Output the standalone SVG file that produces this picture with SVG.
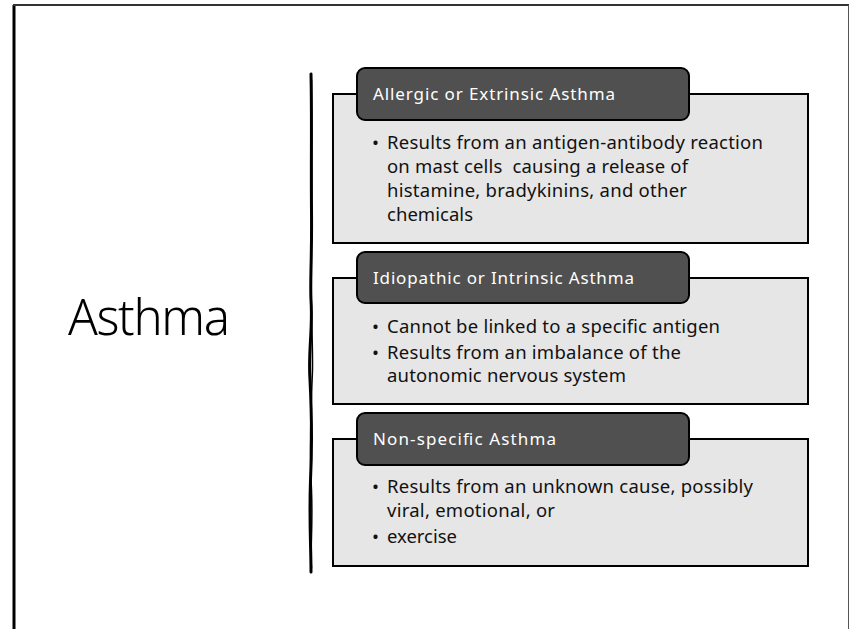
<svg xmlns="http://www.w3.org/2000/svg" width="851" height="629" viewBox="0 0 851 629">
<style>
.body{fill:#e6e6e6;stroke:#000;stroke-width:2}
.head{fill:#505050;stroke:#000;stroke-width:2}
.ht{font-family:"Noto Sans","Liberation Sans",sans-serif;font-size:17px;fill:#fff}
.bt{font-family:"Noto Sans","Liberation Sans",sans-serif;font-size:18.5px;fill:#111;white-space:pre}
.br{fill:none;stroke:#000;stroke-linecap:round}
</style>
<rect width="851" height="629" fill="#fff"/>
<g id="frame">
<line x1="14" y1="5" x2="14" y2="629" stroke="#000" stroke-width="3"/>
<line x1="13" y1="5" x2="849" y2="5" stroke="#333" stroke-width="2"/>
<line x1="848.5" y1="5" x2="848.5" y2="629" stroke="#555" stroke-width="1"/>
</g>
<g id="title">
<text x="68" y="335" font-family="'Noto Sans','Liberation Sans',sans-serif" font-size="49" font-weight="300" fill="#000" textLength="162">Asthma</text>
</g>
<g id="connectors">
<path class="br" stroke-width="3" d="M311 74 C312 120 311 160 311.5 210 C312 260 310 280 311 300 C313 330 308 350 310 380 C312 420 312 450 310.5 480 C309 520 311 545 311 572"/>
<path class="br" stroke-width="1.5" d="M311.5 80 C311 140 312.5 190 311 250 C309.5 300 313 330 312.5 370 C311 410 309 440 311.5 490 C313 530 310 550 311.5 568"/>
</g>
<g id="node1">
<rect class="body" x="333" y="94" width="475" height="149"/>
<rect class="head" x="357" y="68" width="332" height="52" rx="8"/>
<text class="ht" x="373" y="100" textLength="242">Allergic or Extrinsic Asthma</text>
<text class="bt" x="372" y="149">•</text>
<text class="bt" x="387" y="149" textLength="376">Results from an antigen-antibody reaction</text>
<text class="bt" x="387" y="173" textLength="301">on mast cells  causing a release of</text>
<text class="bt" x="387" y="197" textLength="300">histamine, bradykinins, and other</text>
<text class="bt" x="387" y="221" textLength="86">chemicals</text>
</g>
<g id="node2">
<rect class="body" x="333" y="278" width="475" height="126"/>
<rect class="head" x="357" y="252" width="332" height="51" rx="8"/>
<text class="ht" x="373" y="284" textLength="261">Idiopathic or Intrinsic Asthma</text>
<text class="bt" x="372" y="333">•</text>
<text class="bt" x="387" y="333" textLength="333">Cannot be linked to a specific antigen</text>
<text class="bt" x="372" y="359">•</text>
<text class="bt" x="387" y="359" textLength="294">Results from an imbalance of the</text>
<text class="bt" x="387" y="382" textLength="239">autonomic nervous system</text>
</g>
<g id="node3">
<rect class="body" x="333" y="439" width="475" height="127"/>
<rect class="head" x="357" y="413" width="332" height="52" rx="8"/>
<text class="ht" x="373" y="445" textLength="183">Non-specific Asthma</text>
<text class="bt" x="372" y="493">•</text>
<text class="bt" x="387" y="493" textLength="366">Results from an unknown cause, possibly</text>
<text class="bt" x="387" y="517" textLength="168">viral, emotional, or</text>
<text class="bt" x="372" y="543">•</text>
<text class="bt" x="387" y="543" textLength="70">exercise</text>
</g>
</svg>
